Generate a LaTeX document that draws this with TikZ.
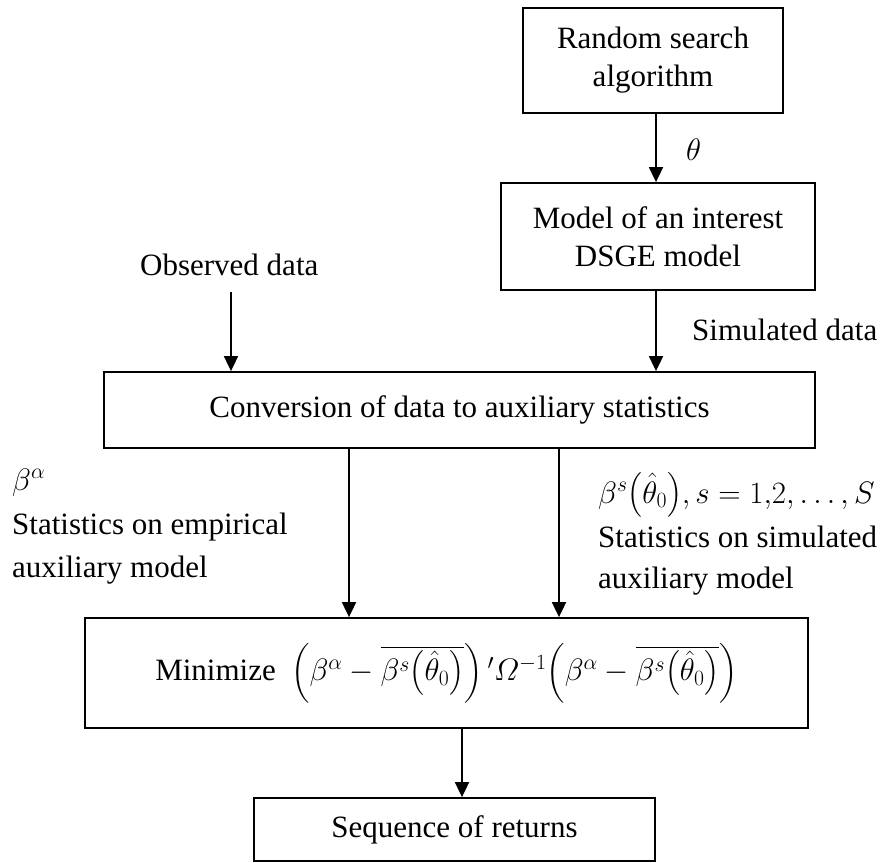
\RequirePackage{fix-cm}
\documentclass[tikz,border=0pt]{standalone}
\usepackage{amsmath}
\usepackage{fontspec}
\setmainfont{Liberation Serif}
\usetikzlibrary{arrows.meta}
\begin{document}
\begin{tikzpicture}[x=1pt,y=-1pt,
  box/.style={draw, line width=1.8pt, align=center, inner sep=0pt,
    font=\fontsize{31}{38}\selectfont},
  lbl/.style={inner sep=0pt, anchor=base west, font=\fontsize{31}{38}\selectfont},
  arr/.style={line width=1.8pt, -{Triangle[width=14pt,length=15pt]}}]
\useasboundingbox (0,0) rectangle (883,862);
% boxes
\node[box, minimum width=260pt, minimum height=105pt] (b1) at (653,60.5) {Random search\\algorithm};
\node[box, minimum width=314pt, minimum height=107pt] (b2) at (658,236.5) {Model of an interest\\DSGE model};
\node[box, minimum width=711pt, minimum height=76pt] (b3) at (459.5,410) {Conversion of data to auxiliary statistics};
\node[box, minimum width=723pt, minimum height=110pt] (b4) at (446.5,673)
  {Minimize\ \ $\Bigl(\beta^{\alpha}-\overline{\beta^{s}\bigl(\hat{\theta}_{0}\bigr)}\Bigr)\,{}^{\prime}\varOmega^{-1}\Bigl(\beta^{\alpha}-\overline{\beta^{s}\bigl(\hat{\theta}_{0}\bigr)}\Bigr)$};
\node[box, minimum width=401pt, minimum height=63pt] (b5) at (454.5,829.5) {Sequence of returns};
% labels
\node[lbl] (theta) at (686,160) {$\theta$};
\node[lbl] (sim) at (692,340) {Simulated data};
\node[lbl] (obs) at (140,275) {Observed data};
\node[lbl] (la1) at (12,490) {$\beta^{\alpha}$};
\node[lbl] (la2) at (12,534) {Statistics on empirical};
\node[lbl] (la3) at (12,577) {auxiliary model};
\node[lbl] (ra1) at (598,503) {$\beta^{s}\bigl(\hat{\theta}_{0}\bigr),s=1{,}2,\ldots,S$};
\node[lbl] (ra2) at (598,547) {Statistics on simulated};
\node[lbl] (ra3) at (598,588) {auxiliary model};
% connector columns
\coordinate (c1) at (656,0);
\coordinate (c3) at (231,292);
\coordinate (c4) at (349,0);
\coordinate (c5) at (559,0);
\coordinate (c6) at (462,0);
\draw[arr] (b1.south -| c1) -- (b2.north -| c1);
\draw[arr] (b2.south -| c1) -- (b3.north -| c1);
\draw[arr] (c3) -- (b3.north -| c3);
\draw[arr] (b3.south -| c4) -- (b4.north -| c4);
\draw[arr] (b3.south -| c5) -- (b4.north -| c5);
\draw[arr] (b4.south -| c6) -- (b5.north -| c6);
\end{tikzpicture}
\end{document}
